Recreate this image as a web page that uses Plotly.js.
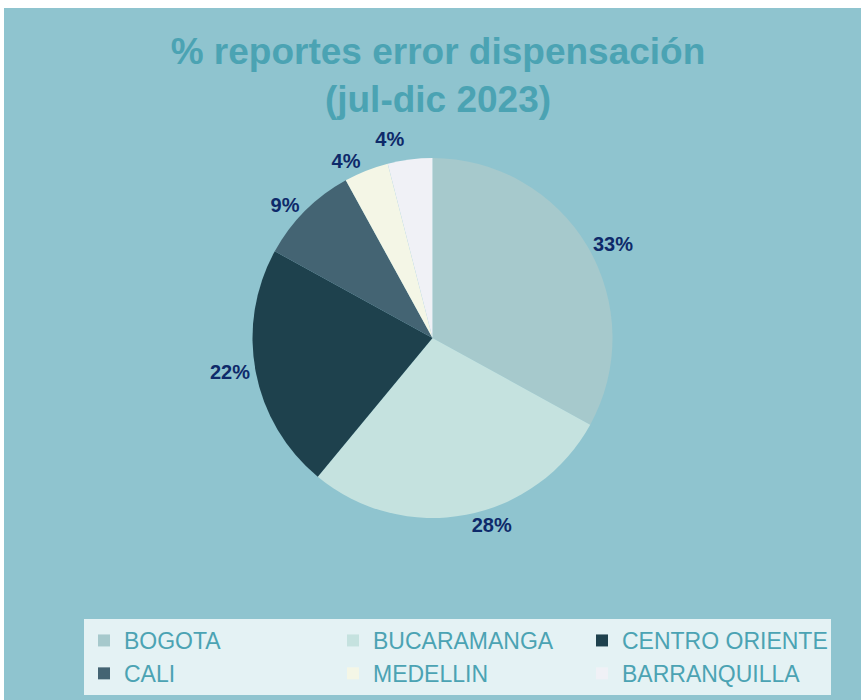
<!DOCTYPE html>
<html><head><meta charset="utf-8">
<script src="https://cdn.plot.ly/plotly-3.0.1.min.js"></script>
<style>
html,body{margin:0;padding:0;background:#ffffff;}
#chart{position:absolute;left:4px;top:8px;width:857px;height:692px;}
</style></head>
<body><div id="chart"></div>
<script>
const categories = ["BOGOTA","BUCARAMANGA","CENTRO ORIENTE","CALI","MEDELLIN","BARRANQUILLA"];
const values = [33, 28, 22, 9, 4, 4];
const colors = ["#A6C9CC","#C5E2DF","#1E414D","#446473","#F4F6E6","#F0F1F6"];

const W = 857, H = 692;
const cy = 338 - 8, r = 180;
const trace = {
  type: "pie",
  labels: categories,
  values: values,
  sort: false,
  direction: "clockwise",
  rotation: 0,
  marker: {colors: colors, line: {width: 0}},
  texttemplate: "%{value}%",
  textposition: "outside",
  outsidetextfont: {family: "Liberation Sans, Arial, sans-serif", size: 20, color: "#0E2A6A", weight: "bold"},
  hoverinfo: "label+percent",
  automargin: false,
  domain: {x: [0, 1], y: [(H - cy - r) / H, (H - cy + r) / H]},
  showlegend: true
};
const layout = {
  width: W, height: H,
  paper_bgcolor: "#8FC4CF",
  margin: {l: 0, r: 0, t: 0, b: 0},
  title: {
    text: "% reportes error dispensación<br>(jul-dic 2023)",
    font: {family: "Liberation Sans, Arial, sans-serif", size: 37, color: "#4BA3B3", weight: "bold"},
    x: 434 / W, xanchor: "center", yref: "container", y: 1 - (64 - 8) / H, yanchor: "middle"
  },
  legend: {
    orientation: "h",
    x: 80 / W, xanchor: "left",
    y: 1 - 611 / H, yanchor: "top",
    bgcolor: "#E4F2F4",
    entrywidth: 204, entrywidthmode: "pixels",
    font: {family: "Liberation Sans, Arial, sans-serif", size: 23, color: "#4BA3B3"},
    itemclick: false, itemdoubleclick: false
  }
};
Plotly.newPlot("chart", [trace], layout, {displayModeBar: false, staticPlot: true}).then(function(gd){
  gd.querySelectorAll("path.textline").forEach(function(p){ p.style.display = "none"; });
});
</script></body></html>
